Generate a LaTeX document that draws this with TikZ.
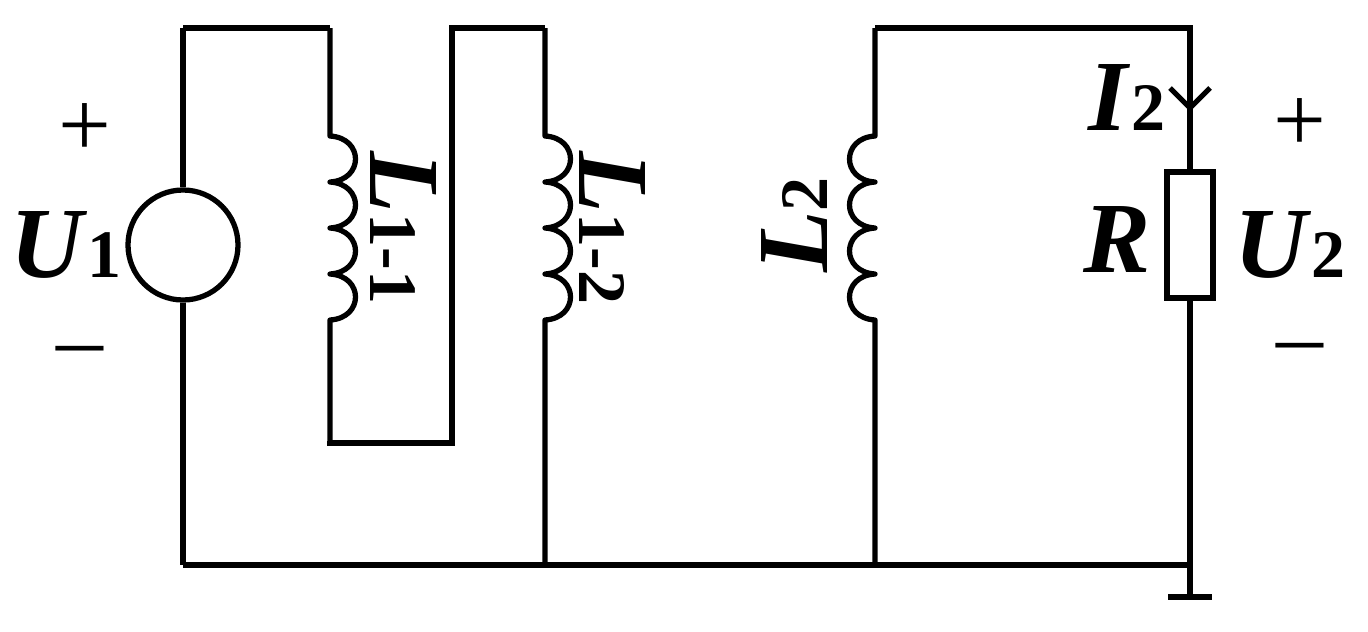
\documentclass[tikz,border=0pt]{standalone}
\usepackage{fontspec}
\setmainfont{Liberation Serif}
\begin{document}
\begin{tikzpicture}[x=0.03cm,y=-0.03cm,line width=4.5pt,line join=miter,
  lbl/.style={font=\fontsize{86}{86}\selectfont\bfseries\itshape,inner sep=0pt},
  pm/.style={font=\fontsize{80}{80}\selectfont,inner sep=0pt}]
\newcommand{\sub}[1]{\textup{\fontsize{58}{58}\selectfont #1}}
\useasboundingbox (0,0) rectangle (1368,631);
\newcommand{\coil}[2]{% x, dir
  \draw[line join=round] (#1,28) -- (#1,136)
   .. controls (#1+#2*34,138) and (#1+#2*34,180) .. (#1,182)
   .. controls (#1+#2*34,184) and (#1+#2*34,226) .. (#1,228)
   .. controls (#1+#2*34,230) and (#1+#2*34,272) .. (#1,274)
   .. controls (#1+#2*34,276) and (#1+#2*34,318) .. (#1,320) -- (#1,565);}
\coordinate (tl) at (183,28);
\coordinate (bl) at (183,565);
\node[circle,draw,minimum size=3.3cm,inner sep=0pt,line width=4.5pt] (src) at (183,245) {};
\draw (tl) -- (src.north); \draw (src.south) -- (bl);
\draw (tl) -- (330,28);
\draw[line join=round] (330,28) -- (330,136)
   .. controls (364,138) and (364,180) .. (330,182)
   .. controls (364,184) and (364,226) .. (330,228)
   .. controls (364,230) and (364,272) .. (330,274)
   .. controls (364,276) and (364,318) .. (330,320) -- (330,443);
\draw (330,441) -- (330,443) -- (452,443) -- (452,28) -- (545,28);
\coil{545}{1}
\coil{875}{-1}
\draw (bl) -- (1190,565);
\draw (875,28) -- (1190,28) -- (1190,172);
\node[draw,minimum width=1.38cm,minimum height=3.78cm,inner sep=0pt,line width=4.5pt] (r) at (1190,235) {};
\draw (r.south) -- (1190,597);
\draw (1168,597) -- (1212,597);
\draw (1170,88) -- (1190,108) -- (1210,88);
\node[lbl] at (66,245) {U\sub{1}};
\node[pm] at (85,130) {+};
\node[pm] at (80,358) {\textendash};
\node[lbl,rotate=-90] at (403,228) {L\sub{1-1}};
\node[lbl,rotate=-90] at (612,228) {L\sub{1-2}};
\node[lbl,rotate=90] at (795,225) {L\sub{2}};
\node[lbl] at (1127,98) {I\sub{2}};
\node[lbl] at (1117,240) {R};
\node[lbl] at (1290,245) {U\sub{2}};
\node[pm] at (1300,125) {+};
\node[pm] at (1300,355) {\textendash};
\end{tikzpicture}
\end{document}
